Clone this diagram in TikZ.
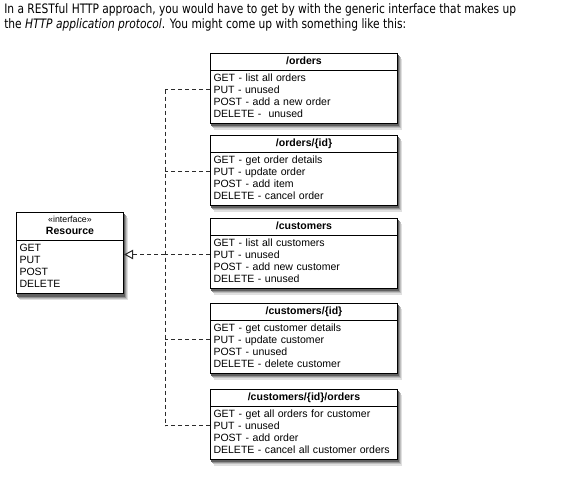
\documentclass[tikz,border=0pt]{standalone}
\usepackage{fontspec}
\setmainfont{Liberation Sans}
\newfontfamily\introfont[FakeStretch=0.82]{DejaVu Sans}
\usetikzlibrary{arrows.meta,shapes.multipart}
\pgfdeclarelayer{bg}
\pgfsetlayers{bg,main}
\definecolor{ink}{HTML}{000000}
\definecolor{dashc}{HTML}{2B2B2B}
\tikzset{
  cls/.style={draw=ink, fill=white, line width=0.75pt, anchor=north west,
    rectangle split, rectangle split parts=2,
    text width=135.75pt, inner xsep=2.25pt, inner ysep=1.5pt,
    font=\fontsize{7.9}{9}\selectfont},
  iface/.style={cls, text width=75.75pt},
  dep/.style={draw=dashc, line width=0.75pt, dash pattern=on 3pt off 2.25pt},
  intro/.style={anchor=base west, inner sep=0pt, font=\introfont\fontsize{9.75}{11.25}\selectfont},
}
\begin{document}
\begin{tikzpicture}[x=0.75pt,y=-0.75pt]
  \useasboundingbox (0,0) rectangle (561,479);
  % intro text
  \node[intro] (intro1) at (4,13.5) {In a RESTful HTTP approach, you would have to get by with the generic interface that makes up};
  \node[intro] (intro2) at (4,28.5) {the \textit{HTTP application protocol}. You might come up with something like this:};
  % the interface
  \node[iface] (res) at (16,212) {{\centering\fontsize{6.6}{8.4}\selectfont\strut«interface»\par\fontsize{7.9}{9}\selectfont\bfseries Resource\strut\par}
    \nodepart{two}\strut GET\\PUT\\POST\\DELETE\strut};
  % the resources
  \node[cls] (orders) at (210,53) {{\centering\bfseries\strut /orders\par}
    \nodepart{two}\strut GET - list all orders\\PUT - unused\\POST - add a new order\\DELETE -\ \ unused\strut};
  \node[cls] (orderid) at (210,135) {{\centering\bfseries\strut /orders/\{id\}\par}
    \nodepart{two}\strut GET - get order details\\PUT - update order\\POST - add item\\DELETE - cancel order\strut};
  \node[cls] (cust) at (210,218) {{\centering\bfseries\strut /customers\par}
    \nodepart{two}\strut GET - list all customers\\PUT - unused\\POST - add new customer\\DELETE - unused\strut};
  \node[cls] (custid) at (210,303) {{\centering\bfseries\strut /customers/\{id\}\par}
    \nodepart{two}\strut GET - get customer details\\PUT - update customer\\POST - unused\\DELETE - delete customer\strut};
  \node[cls] (custord) at (210,389) {{\centering\bfseries\strut /customers/\{id\}/orders\par}
    \nodepart{two}\strut GET - get all orders for customer\\PUT - unused\\POST - add order\\DELETE - cancel all customer orders\strut};
  % shadows
  \begin{pgfonlayer}{bg}
    \foreach \n in {res,orders,orderid,cust,custid,custord}
      \foreach \dx/\dy/\c in {3.0/-4.2/12,2.3/-3.3/25,1.7/-2.5/42,1.1/-1.7/62}
        \fill[black!\c] ([xshift=\dx pt,yshift=\dy pt]\n.north west) rectangle ([xshift=\dx pt,yshift=\dy pt]\n.south east);
  \end{pgfonlayer}
  % realization lines
  \coordinate (bus) at (165,0);
  \foreach \n in {orders,orderid,cust,custid,custord}{
    \coordinate (\n-put) at ([yshift=-14.25pt]\n.text split west);
    \draw[dep] (\n-put) -- (bus |- \n-put);
  }
  \draw[dep] (bus |- orders-put) -- (bus |- custord-put);
  \draw[dep,-{Triangle[open,length=6.75pt,width=7pt]}] (bus |- cust-put) -- (res.east |- cust-put);
\end{tikzpicture}
\end{document}
